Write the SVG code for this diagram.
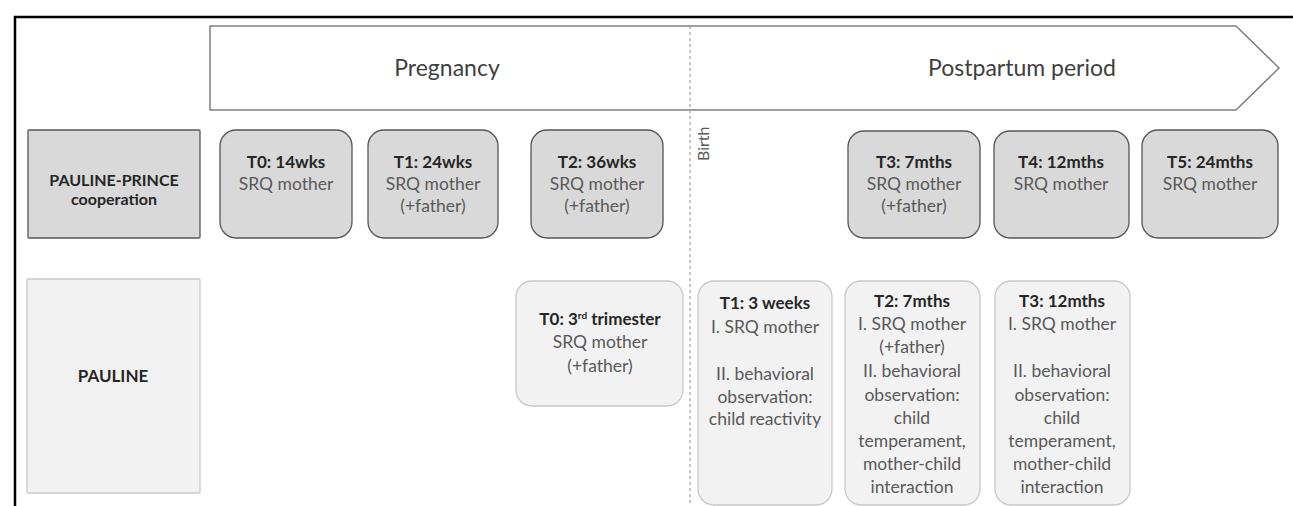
<svg xmlns="http://www.w3.org/2000/svg" width="1293" height="506" viewBox="0 0 1293 506">
<style>
text{font-family:Lato,"Open Sans","Liberation Sans",sans-serif;text-anchor:middle}
.b{font-weight:bold;fill:#262626;font-size:17px}
.r{fill:#595959;font-size:17.5px}
.dk{fill:#d9d9d9;stroke:#555;stroke-width:1.3}
.lt{fill:#f2f2f2;stroke:#c8c8c8;stroke-width:1.3}
.ph{font-size:23px;fill:#404040}
</style>
<rect width="1293" height="506" fill="#fff"/>
<g id="frame"><path d="M15 506 V17 H1293" fill="none" stroke="#000" stroke-width="2.5"/></g>
<g id="banner">
<path d="M210 26 H1236 L1279 68 L1236 110 H210 Z" fill="#fff" stroke="#7f7f7f" stroke-width="1.5"/>
<text class="ph" x="447" y="76">Pregnancy</text>
<text class="ph" x="1022" y="76">Postpartum period</text>
</g>
<g id="connectors">
<line x1="690" y1="26" x2="690" y2="506" stroke="#a6a6a6" stroke-width="1.3" stroke-dasharray="3,3"/>
</g>
<g id="birth"><text x="0" y="0" transform="translate(709,161) rotate(-90)" class="r" style="font-size:16px;text-anchor:start">Birth</text></g>
<g id="pp-label"><rect class="dk" x="28" y="130" width="172" height="108" rx="1"/>
<text class="b" x="114" y="186" style="font-size:16px">PAULINE-PRINCE</text><text class="b" x="114" y="205" style="font-size:16px">cooperation</text></g>
<g id="pp-t0"><rect class="dk" x="220" y="130" width="132" height="108" rx="16"/>
<text class="b" x="286" y="168">T0: 14wks</text><text class="r" x="286" y="190">SRQ mother</text></g>
<g id="pp-t1"><rect class="dk" x="368" y="130" width="130" height="108" rx="16"/>
<text class="b" x="433" y="168">T1: 24wks</text><text class="r" x="433" y="190">SRQ mother</text><text class="r" x="433" y="212">(+father)</text></g>
<g id="pp-t2"><rect class="dk" x="531" y="130" width="132" height="108" rx="16"/>
<text class="b" x="597" y="168">T2: 36wks</text><text class="r" x="597" y="190">SRQ mother</text><text class="r" x="597" y="212">(+father)</text></g>
<g id="pp-t3"><rect class="dk" x="848" y="131" width="132" height="107" rx="16"/>
<text class="b" x="914" y="168">T3: 7mths</text><text class="r" x="914" y="190">SRQ mother</text><text class="r" x="914" y="212">(+father)</text></g>
<g id="pp-t4"><rect class="dk" x="994" y="131" width="135" height="107" rx="16"/>
<text class="b" x="1061" y="168">T4: 12mths</text><text class="r" x="1061" y="190">SRQ mother</text></g>
<g id="pp-t5"><rect class="dk" x="1142" y="130" width="136" height="108" rx="16"/>
<text class="b" x="1210" y="168">T5: 24mths</text><text class="r" x="1210" y="190">SRQ mother</text></g>
<g id="pa-label"><rect class="lt" x="27" y="279" width="173" height="214" rx="1"/>
<text class="b" x="113" y="382">PAULINE</text></g>
<g id="pa-t0"><rect class="lt" x="516" y="281" width="167" height="125" rx="16"/>
<text class="b" x="600" y="325">T0: 3<tspan dy="-6" style="font-size:10px">rd</tspan><tspan dy="6"> trimester</tspan></text>
<text class="r" x="600" y="348">SRQ mother</text><text class="r" x="600" y="372">(+father)</text></g>
<g id="pa-t1"><rect class="lt" x="698" y="281" width="134" height="224" rx="16"/>
<text class="b" x="765" y="309">T1: 3 weeks</text><text class="r" x="765" y="333">I. SRQ mother</text>
<text class="r" x="765" y="380">II. behavioral</text><text class="r" x="765" y="403">observation:</text><text class="r" x="765" y="425">child reactivity</text></g>
<g id="pa-t2"><rect class="lt" x="845" y="281" width="135" height="224" rx="16"/>
<text class="b" x="912" y="307">T2: 7mths</text><text class="r" x="912" y="330">I. SRQ mother</text><text class="r" x="912" y="353">(+father)</text>
<text class="r" x="912" y="377">II. behavioral</text><text class="r" x="912" y="401">observation:</text><text class="r" x="912" y="424">child</text>
<text class="r" x="912" y="447">temperament,</text><text class="r" x="912" y="470">mother-child</text><text class="r" x="912" y="493">interaction</text></g>
<g id="pa-t3"><rect class="lt" x="995" y="281" width="135" height="224" rx="16"/>
<text class="b" x="1062" y="307">T3: 12mths</text><text class="r" x="1062" y="330">I. SRQ mother</text>
<text class="r" x="1062" y="377">II. behavioral</text><text class="r" x="1062" y="401">observation:</text><text class="r" x="1062" y="424">child</text>
<text class="r" x="1062" y="447">temperament,</text><text class="r" x="1062" y="470">mother-child</text><text class="r" x="1062" y="493">interaction</text></g>
</svg>
